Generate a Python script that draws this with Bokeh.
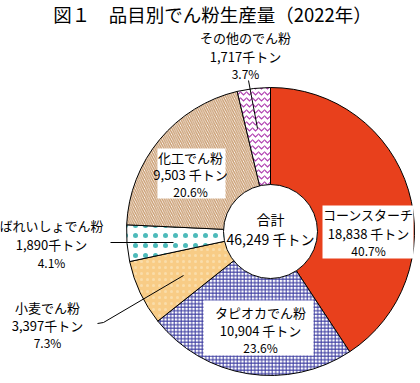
import math
from bokeh.plotting import figure
from bokeh.models import Range1d, ColumnDataSource
from bokeh.core.properties import value
from bokeh.embed import file_html
from bokeh.resources import INLINE

# ---- data ----
title_text = "図１　品目別でん粉生産量（2022年）"
categories = ["コーンスターチ", "タピオカでん粉", "小麦でん粉", "ばれいしょでん粉", "化工でん粉", "その他のでん粉"]
values = [18838, 10904, 3397, 1890, 9503, 1717]
value_labels = ["18,838 千トン", "10,904 千トン", "3,397千トン", "1,890千トン", "9,503 千トン", "1,717千トン"]
percent_labels = ["40.7%", "23.6%", "7.3%", "4.1%", "20.6%", "3.7%"]
total_label = "合計"
total_value_label = "46,249 千トン"

# ---- styles ----
fills = ["#E8401C", "#FFFFFF", "#F8CC86", "#FFFFFF", "#FFFFFF", "#FFFFFF"]
hatches = [" ", "cross", "dot", "dot", "left_diagonal_line", "horizontal_wave"]
hatch_colors = ["#E8401C", "#3A3AA0", "#FADDAA", "#4DBABA", "#C99C70", "#B040B0"]
hatch_scales = [6, 3.5, 6, 10, 4.5, 6]
hatch_weights = [1, 1, 1, 1, 1.4, 1.2]

FONT = value("Noto Sans CJK JP")
H = 383

def Y(y):
    return H - y

W_, H_ = 420, 383
p = figure(width=W_, height=H_, x_range=Range1d(0, 420), y_range=Range1d(Y(383), Y(0)),
           output_backend="svg", toolbar_location=None,
           x_axis_location=None, y_axis_location=None, min_border=0)
p.grid.visible = False
p.outline_line_color = None
p.background_fill_color = "white"

cx, cy, R = 270, 231, 144
total = sum(values)
starts, ends = [], []
cum = 0
for v in values:
    starts.append(math.pi / 2 - 2 * math.pi * cum / total)
    cum += v
    ends.append(math.pi / 2 - 2 * math.pi * cum / total)

src = ColumnDataSource(dict(x=[cx] * len(values), y=[Y(cy)] * len(values), start=starts, end=ends,
                            fill=fills, hatch=hatches, hcol=hatch_colors, hs=hatch_scales, hw=hatch_weights))
p.wedge(x="x", y="y", radius=R, start_angle="start", end_angle="end", direction="clock",
        fill_color="fill", hatch_pattern="hatch", hatch_color="hcol", hatch_scale="hs", hatch_weight="hw",
        line_color="black", line_width=1, source=src)

# inner circle
p.circle(x=[cx], y=[Y(cy)], radius=47, fill_color="white", line_color="black", line_width=1)

# label boxes (px coords: left, right, top, bottom)
boxes = [(322, 413, 205, 258), (203, 313, 300, 355), (157, 225, 148, 198)]
p.quad(left=[b[0] for b in boxes], right=[b[1] for b in boxes],
       top=[Y(b[2]) for b in boxes], bottom=[Y(b[3]) for b in boxes],
       fill_color="white", line_color=None)

# leader lines
p.line(x=[248, 257], y=[Y(80), Y(128)], line_color="black", line_width=1)
p.line(x=[110, 173], y=[Y(242), Y(242)], line_color="black", line_width=1)
p.line(x=[97, 103, 183], y=[Y(323), Y(322), Y(275)], line_color="black", line_width=1)

# label anchor positions (px): center x, y of name line, y of value line, y of pct line
anchors = [(368, 214, 233, 250), (260, 312, 330, 347), (47, 307, 325, 342),
           (51, 225, 244, 262), (190, 157, 174, 191), (245, 37, 56, 73)]
for i, (ax, y1, y2, y3) in enumerate(anchors):
    p.text(x=[ax], y=[Y(y1)], text=[categories[i]], text_font=FONT, text_font_size="13px",
           text_align="center", text_baseline="middle", text_color="black")
    p.text(x=[ax], y=[Y(y2)], text=[value_labels[i]], text_font=FONT, text_font_size="13px",
           text_align="center", text_baseline="middle", text_color="black")
    p.text(x=[ax], y=[Y(y3)], text=[percent_labels[i]], text_font=FONT, text_font_size="12px",
           text_align="center", text_baseline="middle", text_color="black")

p.text(x=[cx], y=[Y(218)], text=[total_label], text_font=FONT, text_font_size="14px",
       text_align="center", text_baseline="middle", text_color="black")
p.text(x=[cx], y=[Y(238)], text=[total_value_label], text_font=FONT, text_font_size="14px",
       text_align="center", text_baseline="middle", text_color="black")

p.text(x=[212], y=[Y(13)], text=[title_text], text_font=FONT, text_font_size="18.5px",
       text_align="center", text_baseline="middle", text_color="black")

open("out.html", "w").write(file_html(p, INLINE))
